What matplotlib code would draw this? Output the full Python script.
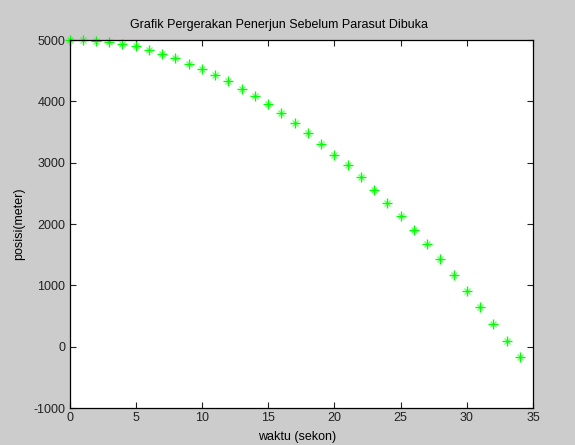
import matplotlib
matplotlib.use("Agg")
import matplotlib.pyplot as plt

waktu = list(range(0, 35))
posisi = [5000, 4995, 4982, 4962, 4935, 4900, 4845, 4780, 4700, 4616,
          4525, 4437, 4333, 4209, 4089, 3953, 3804, 3643, 3486, 3306,
          3132, 2958, 2762, 2556, 2344, 2126, 1904, 1675, 1430, 1170,
          914, 653, 375, 98, -175]

xticks = [0, 5, 10, 15, 20, 25, 30, 35]
yticks = [-1000, 0, 1000, 2000, 3000, 4000, 5000]

plt.rcParams['font.family'] = ['Liberation Sans', 'DejaVu Sans']
plt.rcParams['axes.unicode_minus'] = False
fig = plt.figure(figsize=(5.75, 4.45), dpi=100, facecolor='#cccccc')
ax = fig.add_axes([0.1209, 0.0831, 0.927 - 0.1209, 0.910 - 0.0831])
ax.set_facecolor('white')
ax.plot(waktu, posisi, linestyle='none', marker='+', markersize=7.5,
        markeredgewidth=1.0, color='#00ff00', clip_on=False)
ax.plot(waktu, posisi, linestyle='none', marker='x', markersize=4.5,
        markeredgewidth=0.9, color='#00ff00', alpha=0.6, clip_on=False)
ax.set_xlim(0, 35)
ax.set_ylim(-1000, 5000)
ax.set_xticks(xticks)
ax.set_yticks(yticks)
ax.tick_params(direction='in', top=True, right=True, length=4, width=0.8,
               labelsize=9, colors='#222222', pad=3)
for s in ax.spines.values():
    s.set_linewidth(0.9)
ax.set_title('Grafik Pergerakan Penerjun Sebelum Parasut Dibuka', fontsize=9,
             pad=9, x=0.452)
ax.set_xlabel('waktu (sekon)', fontsize=9, labelpad=5, x=0.49)
ax.set_ylabel('posisi(meter)', fontsize=9, labelpad=6)
fig.savefig('out.png', dpi=100, facecolor=fig.get_facecolor())
